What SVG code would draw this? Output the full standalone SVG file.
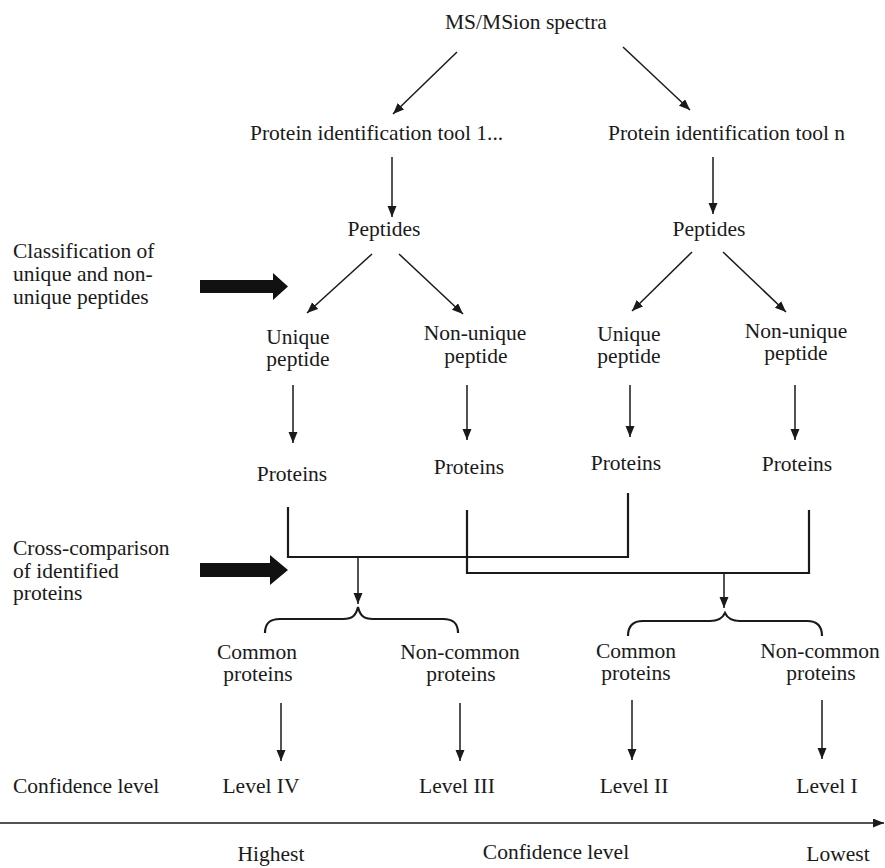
<svg xmlns="http://www.w3.org/2000/svg" width="885" height="868" viewBox="0 0 885 868">
<style>
text{font-family:"Liberation Serif","Times New Roman",serif;font-size:21.5px;fill:#1a1a1a}
.c{text-anchor:middle}
.ln{fill:none;stroke:#1a1a1a;stroke-width:1.5}
.br{fill:none;stroke:#1a1a1a;stroke-width:2.2}
.big{fill:#111}
</style>
<defs>
<marker id="ah" markerUnits="userSpaceOnUse" markerWidth="12" markerHeight="10" refX="11" refY="4.5" orient="auto">
<path d="M0,0 L11,4.5 L0,9 Z" fill="#1a1a1a"/>
</marker>
</defs>
<rect width="885" height="868" fill="#fff"/>
<g id="ms"><text x="445" y="29">MS/MSion spectra</text></g>
<g id="tool1"><text x="250" y="140">Protein identification tool 1...</text></g>
<g id="tooln"><text x="608" y="140">Protein identification tool n</text></g>
<g id="pep1"><text class="c" x="384" y="236">Peptides</text></g>
<g id="pepn"><text class="c" x="709" y="236">Peptides</text></g>
<g id="uniq1"><text class="c" x="298" y="344">Unique</text><text class="c" x="298" y="366">peptide</text></g>
<g id="nonuniq1"><text class="c" x="475" y="340">Non-unique</text><text class="c" x="476" y="363">peptide</text></g>
<g id="uniqn"><text class="c" x="629" y="341">Unique</text><text class="c" x="629" y="363">peptide</text></g>
<g id="nonuniqn"><text class="c" x="796" y="338">Non-unique</text><text class="c" x="796" y="360">peptide</text></g>
<g id="prot1"><text class="c" x="292" y="481">Proteins</text></g>
<g id="prot2"><text class="c" x="469" y="474">Proteins</text></g>
<g id="prot3"><text class="c" x="626" y="470">Proteins</text></g>
<g id="prot4"><text class="c" x="797" y="471">Proteins</text></g>
<g id="common1"><text class="c" x="257" y="659">Common</text><text class="c" x="258" y="681">proteins</text></g>
<g id="noncommon1"><text class="c" x="460" y="659">Non-common</text><text class="c" x="461" y="681">proteins</text></g>
<g id="commonn"><text class="c" x="636" y="658">Common</text><text class="c" x="636" y="680">proteins</text></g>
<g id="noncommonn"><text class="c" x="820" y="658">Non-common</text><text class="c" x="821" y="680">proteins</text></g>
<g id="level4"><text class="c" x="261" y="793">Level IV</text></g>
<g id="level3"><text class="c" x="457" y="793">Level III</text></g>
<g id="level2"><text class="c" x="634" y="793">Level II</text></g>
<g id="level1"><text class="c" x="827" y="793">Level I</text></g>
<g id="label-classification"><text x="13" y="258">Classification of</text><text x="13" y="281">unique and non-</text><text x="13" y="304">unique peptides</text></g>
<g id="label-cross"><text x="13" y="555">Cross-comparison</text><text x="13" y="578">of identified</text><text x="13" y="600">proteins</text></g>
<g id="label-confidence"><text x="13" y="793">Confidence level</text></g>
<g id="axis-labels"><text class="c" x="271" y="861">Highest</text><text class="c" x="556" y="859">Confidence level</text><text class="c" x="838" y="861">Lowest</text></g>
<g id="connectors">
<line class="ln" x1="457" y1="52" x2="393" y2="114" marker-end="url(#ah)"/>
<line class="ln" x1="623" y1="47" x2="690" y2="110" marker-end="url(#ah)"/>
<line class="ln" x1="392" y1="157" x2="392" y2="217" marker-end="url(#ah)"/>
<line class="ln" x1="713" y1="157" x2="713" y2="214" marker-end="url(#ah)"/>
<line class="ln" x1="372" y1="254" x2="307" y2="313" marker-end="url(#ah)"/>
<line class="ln" x1="399" y1="254" x2="463" y2="314" marker-end="url(#ah)"/>
<line class="ln" x1="692" y1="252" x2="632" y2="311" marker-end="url(#ah)"/>
<line class="ln" x1="723" y1="252" x2="786" y2="312" marker-end="url(#ah)"/>
<line class="ln" x1="293" y1="385" x2="293" y2="443" marker-end="url(#ah)"/>
<line class="ln" x1="467" y1="385" x2="467" y2="440" marker-end="url(#ah)"/>
<line class="ln" x1="630" y1="385" x2="630" y2="437" marker-end="url(#ah)"/>
<line class="ln" x1="795" y1="385" x2="795" y2="440" marker-end="url(#ah)"/>
<path class="br" d="M288,507 V557 H628 V493"/>
<path class="br" d="M467,510 V573 H809 V510"/>
<line class="ln" x1="358" y1="557" x2="358" y2="604" marker-end="url(#ah)"/>
<line class="ln" x1="724" y1="573" x2="724" y2="608" marker-end="url(#ah)"/>
<path class="br" d="M265,633 C265,623 270,619 280,619 L343,619 C353,619 356,615 358,607 C360,615 363,619 373,619 L443,619 C453,619 458,623 458,633"/>
<path class="br" d="M628,636 C628,626 633,621 643,621 L710,621 C720,621 723,617 725,613 C727,617 730,621 740,621 L807,621 C817,621 822,626 822,636"/>
<line class="ln" x1="281" y1="703" x2="281" y2="761" marker-end="url(#ah)"/>
<line class="ln" x1="460" y1="703" x2="460" y2="761" marker-end="url(#ah)"/>
<line class="ln" x1="632" y1="700" x2="632" y2="760" marker-end="url(#ah)"/>
<line class="ln" x1="822" y1="700" x2="822" y2="759" marker-end="url(#ah)"/>
<line class="ln" x1="0" y1="823" x2="884" y2="823" marker-end="url(#ah)"/>
<path class="big" d="M200,280 H273 V273 L288,286.5 L273,300 V293 H200 Z"/>
<path class="big" d="M200,563 H270 V555 L288,570 L270,585 V577 H200 Z"/>
</g>
</svg>
